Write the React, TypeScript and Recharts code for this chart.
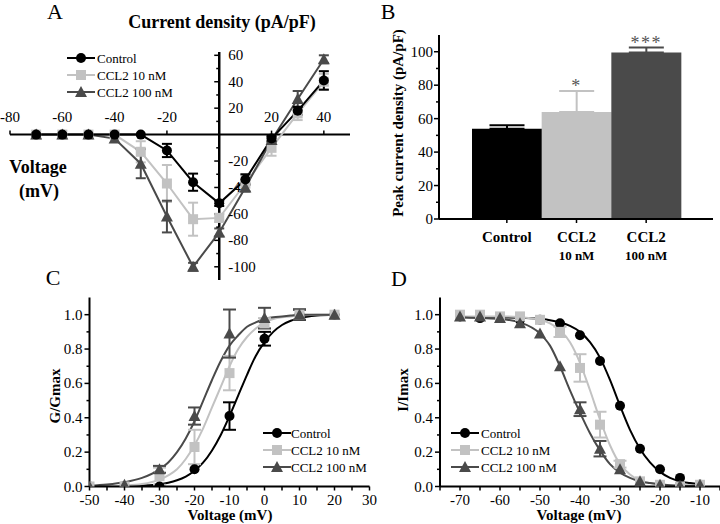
import React from "react";
import {
  Bar,
  ComposedChart,
  ErrorBar,
  LabelList,
  Line,
  LineChart,
  ReferenceDot,
  ReferenceLine,
  Scatter,
  XAxis,
  YAxis,
} from "recharts";

const SERIF = '"Liberation Serif", "Times New Roman", serif';
const INK = "#000000";
const LIGHT = "#c2c2c2";
const DARK = "#4a4a4a";

const seriesNames = ["Control", "CCL2 10 nM", "CCL2 100 nM"];
const seriesColors = [INK, LIGHT, DARK];
const seriesShapes = ["circle", "square", "triangle"];

// A: current density vs voltage
const ivVoltage = [-70, -60, -50, -40, -30, -20, -10, 0, 10, 20, 30, 40];
const ivControl = [0, 0, 0, 0, 0, -12, -36, -52, -34, -3, 18, 41];
const ivControlSem = [null, null, null, null, null, 5, 6.5, 2, 4, 2, 3, 7];
const ivCcl10 = [0, 0, 0, 0, -13, -37, -64, -63, -37, -10, 16, 40];
const ivCcl10Sem = [null, null, null, null, 8, 14, 12.5, 3, 6, 6, 5, 6];
const ivCcl100 = [0, 0, 0, -3, -22, -62, -100, -74, -40, -4, 27, 57];
const ivCcl100Sem = [null, null, null, null, 11, 12, 3, 3, 3, 2, 6, 3];
const ivXTicks = [-80, -60, -40, -20, 20, 40];
const ivYTicks = [60, 50, 40, 30, 20, 10, -10, -20, -30, -40, -50, -60, -70, -80, -90, -100];

// B: peak current density
const peakGroups = ["Control", "CCL2 10 nM", "CCL2 100 nM"];
const peakLabel = ["Control", "CCL2", "CCL2"];
const peakSub = ["", "10 nM", "100 nM"];
const peakMean = [54, 64, 99.5];
const peakSem = [2, 12.5, 3];
const peakSig = ["", "*", "***"];
const peakTicks = [0, 10, 20, 30, 40, 50, 60, 70, 80, 90, 100];

// C: activation (G/Gmax)
const gvVoltage = [-50, -40, -30, -20, -10, 0, 10, 20];
const gvControl = [0, 0, 0, 0.1, 0.41, 0.86, 1.0, 1.0];
const gvControlSem = [null, null, null, null, 0.08, 0.04, 0.03, null];
const gvCcl10 = [0, 0, 0.06, 0.23, 0.66, 0.95, 1.0, 1.0];
const gvCcl10Sem = [null, null, 0.05, 0.1, 0.1, 0.03, null, null];
const gvCcl100 = [0, 0.01, 0.1, 0.41, 0.89, 0.98, 1.0, 1.0];
const gvCcl100Sem = [null, null, 0.02, 0.05, 0.14, 0.06, 0.03, null];
const gvFitV = [-50, -45, -40, -35, -30, -27.5, -25, -22.5, -20, -17.5, -15, -12.5, -10, -7.5, -5, -2.5, 0, 2.5, 5, 7.5, 10, 15, 20];
const gvFitControl = [0, 0.001, 0.002, 0.005, 0.013, 0.022, 0.036, 0.058, 0.092, 0.14, 0.21, 0.3, 0.41, 0.53, 0.65, 0.76, 0.84, 0.9, 0.94, 0.965, 0.98, 0.995, 1.0];
const gvFitCcl10 = [0, 0.002, 0.005, 0.014, 0.04, 0.065, 0.1, 0.16, 0.24, 0.34, 0.46, 0.58, 0.7, 0.8, 0.87, 0.92, 0.955, 0.975, 0.985, 0.99, 0.995, 1.0, 1.0];
const gvFitCcl100 = [0.005, 0.012, 0.025, 0.05, 0.1, 0.14, 0.2, 0.28, 0.38, 0.5, 0.62, 0.73, 0.82, 0.88, 0.93, 0.955, 0.975, 0.985, 0.99, 0.995, 1.0, 1.0, 1.0];
const gvXTicks = [-50, -45, -40, -35, -30, -25, -20, -15, -10, -5, 0, 5, 10, 15, 20, 25, 30];

// D: steady-state inactivation (I/Imax)
const ssiVoltage = [-70, -65, -60, -55, -50, -45, -40, -35, -30, -25, -20, -15, -10];
const ssiControl = [0.99, 0.98, 0.98, 0.97, 0.97, 0.95, 0.88, 0.73, 0.47, 0.22, 0.1, 0.05, 0.01];
const ssiControlSem = [null, null, null, null, null, null, null, null, null, null, null, null, null];
const ssiCcl10 = [1.0, 1.0, 0.99, 0.99, 0.97, 0.9, 0.69, 0.36, 0.13, 0.03, 0.01, 0.0, 0.01];
const ssiCcl10Sem = [null, null, null, null, null, 0.03, 0.08, 0.075, 0.02, null, null, null, null];
const ssiCcl100 = [0.99, 0.99, 0.98, 0.95, 0.89, 0.7, 0.45, 0.22, 0.1, 0.03, 0.01, 0.005, 0.01];
const ssiCcl100Sem = [null, null, null, null, null, null, 0.04, 0.045, null, null, null, null, null];
const ssiFitV = [-70, -65, -60, -55, -50, -47.5, -45, -42.5, -40, -37.5, -35, -32.5, -30, -27.5, -25, -22.5, -20, -17.5, -15, -12.5, -10];
const ssiFitControl = [0.985, 0.985, 0.984, 0.982, 0.975, 0.968, 0.955, 0.935, 0.9, 0.84, 0.75, 0.62, 0.47, 0.33, 0.22, 0.14, 0.085, 0.05, 0.03, 0.02, 0.012];
const ssiFitCcl10 = [0.99, 0.99, 0.99, 0.985, 0.97, 0.95, 0.91, 0.84, 0.72, 0.56, 0.39, 0.24, 0.13, 0.07, 0.035, 0.02, 0.012, 0.008, 0.006, 0.005, 0.005];
const ssiFitCcl100 = [0.985, 0.98, 0.975, 0.955, 0.89, 0.82, 0.7, 0.56, 0.43, 0.31, 0.21, 0.13, 0.08, 0.05, 0.03, 0.02, 0.012, 0.008, 0.006, 0.005, 0.005];
const ssiXTicks = [-75, -70, -65, -60, -55, -50, -45, -40, -35, -30, -25, -20, -15, -10, -5];

const ratioTicks = [0, 0.1, 0.2, 0.3, 0.4, 0.5, 0.6, 0.7, 0.8, 0.9, 1.0];

function Marker({ cx, cy, kind, color, size = 10 }: any) {
  if (cx == null || cy == null || isNaN(cx) || isNaN(cy)) return null;
  const h = size / 2;
  if (kind === "circle") return <circle cx={cx} cy={cy} r={h} fill={color} />;
  if (kind === "square") return <rect x={cx - h} y={cy - h} width={size} height={size} fill={color} />;
  return <polygon points={`${cx},${cy - h - 1} ${cx - h - 1},${cy + h} ${cx + h + 1},${cy + h}`} fill={color} />;
}

// ---------- A ----------
const ivKeys = ["ctl", "c10", "c100"];
const ivData = ivVoltage.map((v, i) => ({
  v,
  ctl: ivControl[i],
  ctlErr: ivControlSem[i],
  c10: ivCcl10[i],
  c10Err: ivCcl10Sem[i],
  c100: ivCcl100[i],
  c100Err: ivCcl100Sem[i],
}));

function XTickA({ cx, cy, value }: any) {
  return (
    <g>
      <line x1={cx} x2={cx} y1={cy} y2={cy - 4} stroke={INK} strokeWidth={1.5} />
      <text x={cx} y={cy - 13} textAnchor="middle" fontSize={15} fontFamily={SERIF} fill={INK}>
        {value}
      </text>
    </g>
  );
}

function YTickA({ cx, cy, value }: any) {
  const major = value % 20 === 0;
  return (
    <g>
      <line x1={cx - (major ? 5 : 3)} x2={cx} y1={cy} y2={cy} stroke={INK} strokeWidth={1.5} />
      {major && (
        <text x={cx + 9} y={cy + 5} textAnchor="start" fontSize={15} fontFamily={SERIF} fill={INK}>
          {value}
        </text>
      )}
    </g>
  );
}

function PanelA() {
  const order = [1, 2, 0];
  return (
    <LineChart width={360} height={290} data={ivData} margin={{ top: 52, right: 10, bottom: 10, left: 10 }}>
      <XAxis type="number" dataKey="v" domain={[-80, 50]} hide height={0} allowDataOverflow />
      <YAxis type="number" domain={[-110, 62.5]} hide width={0} allowDataOverflow />
      <ReferenceLine y={0} stroke={INK} strokeWidth={2} />
      <ReferenceLine x={0} stroke={INK} strokeWidth={2.5} />
      {ivXTicks.map((t) => (
        <ReferenceDot key={`x${t}`} x={t} y={0} r={0} shape={(p: any) => <XTickA cx={p.cx} cy={p.cy} value={t} />} />
      ))}
      {ivYTicks.map((t) => (
        <ReferenceDot key={`y${t}`} x={0} y={t} r={0} shape={(p: any) => <YTickA cx={p.cx} cy={p.cy} value={t} />} />
      ))}
      {order.map((i) => (
        <Line
          key={ivKeys[i]}
          type="linear"
          dataKey={ivKeys[i]}
          stroke={seriesColors[i]}
          strokeWidth={2}
          isAnimationActive={false}
          activeDot={false}
          dot={(p: any) => <Marker key={`${ivKeys[i]}${p.index}`} cx={p.cx} cy={p.cy} kind={seriesShapes[i]} color={seriesColors[i]} />}
        >
          <ErrorBar dataKey={`${ivKeys[i]}Err`} direction="y" width={5} stroke={seriesColors[i]} strokeWidth={2} />
        </Line>
      ))}
    </LineChart>
  );
}

// ---------- B ----------
const barKeys = ["ctl", "c10", "c100"];
const peakData = peakGroups.map((g, i) => ({
  id: g,
  [barKeys[i]]: peakMean[i],
  [`${barKeys[i]}Err`]: [0, peakSem[i]],
  top: peakMean[i] + peakSem[i],
  sig: peakSig[i],
}));

function BXTick({ x, y, index }: any) {
  return (
    <g>
      <line x1={x} x2={x} y1={y} y2={y + 4} stroke={INK} strokeWidth={1.5} />
      <text x={x} y={y + 23} textAnchor="middle" fontSize={15} fontWeight="bold" fontFamily={SERIF} fill={INK}>
        {peakLabel[index]}
      </text>
      {peakSub[index] && (
        <text x={x} y={y + 41} textAnchor="middle" fontSize={13} fontWeight="bold" fontFamily={SERIF} fill={INK}>
          {peakSub[index]}
        </text>
      )}
    </g>
  );
}

function BYTick({ x, y, payload }: any) {
  const major = payload.value % 20 === 0;
  return (
    <g>
      <line x1={x - (major ? 5 : 3)} x2={x} y1={y} y2={y} stroke={INK} strokeWidth={1.5} />
      {major && (
        <text x={x - 6} y={y + 5} textAnchor="end" fontSize={15} fontFamily={SERIF} fill={INK}>
          {payload.value}
        </text>
      )}
    </g>
  );
}

function StarLabel({ x, y, value }: any) {
  if (!value) return null;
  return (
    <text x={x} y={y + 1} textAnchor="middle" fontSize={18} letterSpacing={1.5} fontFamily={SERIF} fill="#555">
      {value}
    </text>
  );
}

function PanelB() {
  return (
    <ComposedChart
      width={360}
      height={270}
      data={peakData}
      margin={{ top: 35, right: 7, bottom: 6, left: 39 }}
      barCategoryGap={0}
      barGap={0}
    >
      <XAxis
        dataKey="id"
        type="category"
        padding={{ left: 33, right: 32 }}
        height={45}
        interval={0}
        axisLine={{ stroke: INK, strokeWidth: 2 }}
        tickLine={false}
        tickSize={0}
        tickMargin={0}
        tick={<BXTick />}
      />
      <YAxis
        type="number"
        domain={[0, 110]}
        ticks={peakTicks}
        interval={0}
        allowDataOverflow
        width={40}
        axisLine={{ stroke: INK, strokeWidth: 2 }}
        tickLine={false}
        tickSize={0}
        tickMargin={0}
        tick={<BYTick />}
      />
      {barKeys.map((k, i) => (
        <Bar key={k} dataKey={k} stackId="peak" fill={seriesColors[i]} isAnimationActive={false}>
          <ErrorBar dataKey={`${k}Err`} direction="y" width={17.5} stroke={seriesColors[i]} strokeWidth={2} />
        </Bar>
      ))}
      <Line dataKey="top" stroke="none" dot={false} activeDot={false} isAnimationActive={false}>
        <LabelList dataKey="sig" content={<StarLabel />} />
      </Line>
    </ComposedChart>
  );
}

// ---------- C / D ----------
function FitXTick({ x, y, payload }: any) {
  const major = Math.abs(payload.value) % 10 === 0;
  return (
    <g>
      <line x1={x} x2={x} y1={y} y2={y + 4} stroke={INK} strokeWidth={1.5} />
      {major && (
        <text x={x} y={y + 18} textAnchor="middle" fontSize={15} fontFamily={SERIF} fill={INK}>
          {payload.value}
        </text>
      )}
    </g>
  );
}

function FitYTick({ x, y, payload }: any) {
  const major = Math.round(payload.value * 10) % 2 === 0;
  return (
    <g>
      <line x1={x - (major ? 5 : 3)} x2={x} y1={y} y2={y} stroke={INK} strokeWidth={1.5} />
      {major && (
        <text x={x - 7} y={y + 5} textAnchor="end" fontSize={15} fontFamily={SERIF} fill={INK}>
          {payload.value.toFixed(1)}
        </text>
      )}
    </g>
  );
}

function toPts(xs: number[], ys: (number | null)[], errs?: (number | null)[]) {
  return xs.map((x, i) => ({ x, y: ys[i], e: errs ? errs[i] : null }));
}

function FitPanel({ width, marginLeft, marginRight, domain, xTicks, points, fits }: any) {
  return (
    <ComposedChart
      width={width}
      height={244}
      margin={{ top: 17.5, right: marginRight, bottom: 7.5, left: marginLeft }}
    >
      <XAxis
        type="number"
        dataKey="x"
        domain={domain}
        ticks={xTicks}
        interval={0}
        allowDataOverflow
        height={30}
        axisLine={{ stroke: INK, strokeWidth: 2 }}
        tickLine={false}
        tickSize={0}
        tickMargin={0}
        tick={<FitXTick />}
      />
      <YAxis
        type="number"
        domain={[0, 1.1]}
        ticks={ratioTicks}
        interval={0}
        allowDataOverflow
        width={40}
        axisLine={{ stroke: INK, strokeWidth: 2 }}
        tickLine={false}
        tickSize={0}
        tickMargin={0}
        tick={<FitYTick />}
      />
      {fits.map((f: any, i: number) => (
        <Line
          key={`fit${i}`}
          data={f}
          dataKey="y"
          type="monotone"
          stroke={seriesColors[i]}
          strokeWidth={2}
          dot={false}
          activeDot={false}
          isAnimationActive={false}
        />
      ))}
      {points.map((p: any, i: number) => (
        <Scatter
          key={`pts${i}`}
          data={p}
          dataKey="y"
          isAnimationActive={false}
          shape={(s: any) => <Marker cx={s.cx} cy={s.cy} kind={seriesShapes[i]} color={seriesColors[i]} size={10} />}
        >
          <ErrorBar dataKey="e" direction="y" width={6.5} stroke={seriesColors[i]} strokeWidth={2} />
        </Scatter>
      ))}
    </ComposedChart>
  );
}

function Legend({ x, y, textX }: any) {
  return (
    <g>
      {seriesNames.map((name, i) => (
        <g key={name}>
          <line x1={x} x2={x + 28} y1={y + i * 17} y2={y + i * 17} stroke={seriesColors[i]} strokeWidth={2} />
          <Marker cx={x + 14} cy={y + i * 17} kind={seriesShapes[i]} color={seriesColors[i]} size={10} />
          <text x={textX} y={y + i * 17 + 4.5} fontSize={13} fontFamily={SERIF} fill={INK}>
            {name}
          </text>
        </g>
      ))}
    </g>
  );
}

function Overlay() {
  const bold = { fontFamily: SERIF, fontWeight: "bold" as const, fill: INK };
  return (
    <svg width={720} height={524} style={{ position: "absolute", left: 0, top: 0, pointerEvents: "none" }}>
      <text x={55} y={18.5} fontSize={22} textAnchor="middle" fontFamily={SERIF}>A</text>
      <text x={388} y={18.5} fontSize={22} textAnchor="middle" fontFamily={SERIF}>B</text>
      <text x={53} y={285} fontSize={22} textAnchor="middle" fontFamily={SERIF}>C</text>
      <text x={399} y={286} fontSize={22} textAnchor="middle" fontFamily={SERIF}>D</text>

      <text x={222} y={28} fontSize={18} textAnchor="middle" {...bold}>Current density (pA/pF)</text>
      <text x={38} y={172.5} fontSize={18} textAnchor="middle" {...bold}>Voltage</text>
      <text x={39} y={197} fontSize={18} textAnchor="middle" {...bold}>(mV)</text>

      <text transform="translate(403 123) rotate(-90)" fontSize={15} textAnchor="middle" {...bold}>
        Peak current density (pA/pF)
      </text>

      <text transform="translate(60 396) rotate(-90)" fontSize={15} textAnchor="middle" {...bold}>G/Gmax</text>
      <text transform="translate(408 390) rotate(-90)" fontSize={15} textAnchor="middle" {...bold}>I/Imax</text>
      <text x={230} y={520} fontSize={15} textAnchor="middle" {...bold}>Voltage (mV)</text>
      <text x={579} y={520} fontSize={15} textAnchor="middle" {...bold}>Voltage (mV)</text>

      <Legend x={67} y={58} textX={97} />
      <Legend x={263} y={433} textX={291} />
      <Legend x={451} y={433} textX={481} />
    </svg>
  );
}

export default function App() {
  const gvPoints = [
    toPts(gvVoltage, gvControl, gvControlSem),
    toPts(gvVoltage, gvCcl10, gvCcl10Sem),
    toPts(gvVoltage, gvCcl100, gvCcl100Sem),
  ];
  const gvFits = [toPts(gvFitV, gvFitControl), toPts(gvFitV, gvFitCcl10), toPts(gvFitV, gvFitCcl100)];
  const ssiPoints = [
    toPts(ssiVoltage, ssiControl, ssiControlSem),
    toPts(ssiVoltage, ssiCcl10, ssiCcl10Sem),
    toPts(ssiVoltage, ssiCcl100, ssiCcl100Sem),
  ];
  const ssiFits = [toPts(ssiFitV, ssiFitControl), toPts(ssiFitV, ssiFitCcl10), toPts(ssiFitV, ssiFitCcl100)];

  return (
    <div
      style={{
        position: "absolute",
        left: 0,
        top: 0,
        width: 720,
        height: 524,
        background: "#fff",
        fontFamily: SERIF,
        overflow: "hidden",
      }}
    >
      <div style={{ position: "absolute", left: 0, top: 0 }}>
        <PanelA />
      </div>
      <div style={{ position: "absolute", left: 360, top: 0 }}>
        <PanelB />
      </div>
      <div style={{ position: "absolute", left: 0, top: 280 }}>
        <FitPanel
          width={390}
          marginLeft={49.5}
          marginRight={20.5}
          domain={[-50, 30]}
          xTicks={gvXTicks}
          points={gvPoints}
          fits={gvFits}
        />
      </div>
      <div style={{ position: "absolute", left: 360, top: 280 }}>
        <FitPanel
          width={360}
          marginLeft={40}
          marginRight={0}
          domain={[-75, -5]}
          xTicks={ssiXTicks}
          points={ssiPoints}
          fits={ssiFits}
        />
      </div>
      <Overlay />
    </div>
  );
}
